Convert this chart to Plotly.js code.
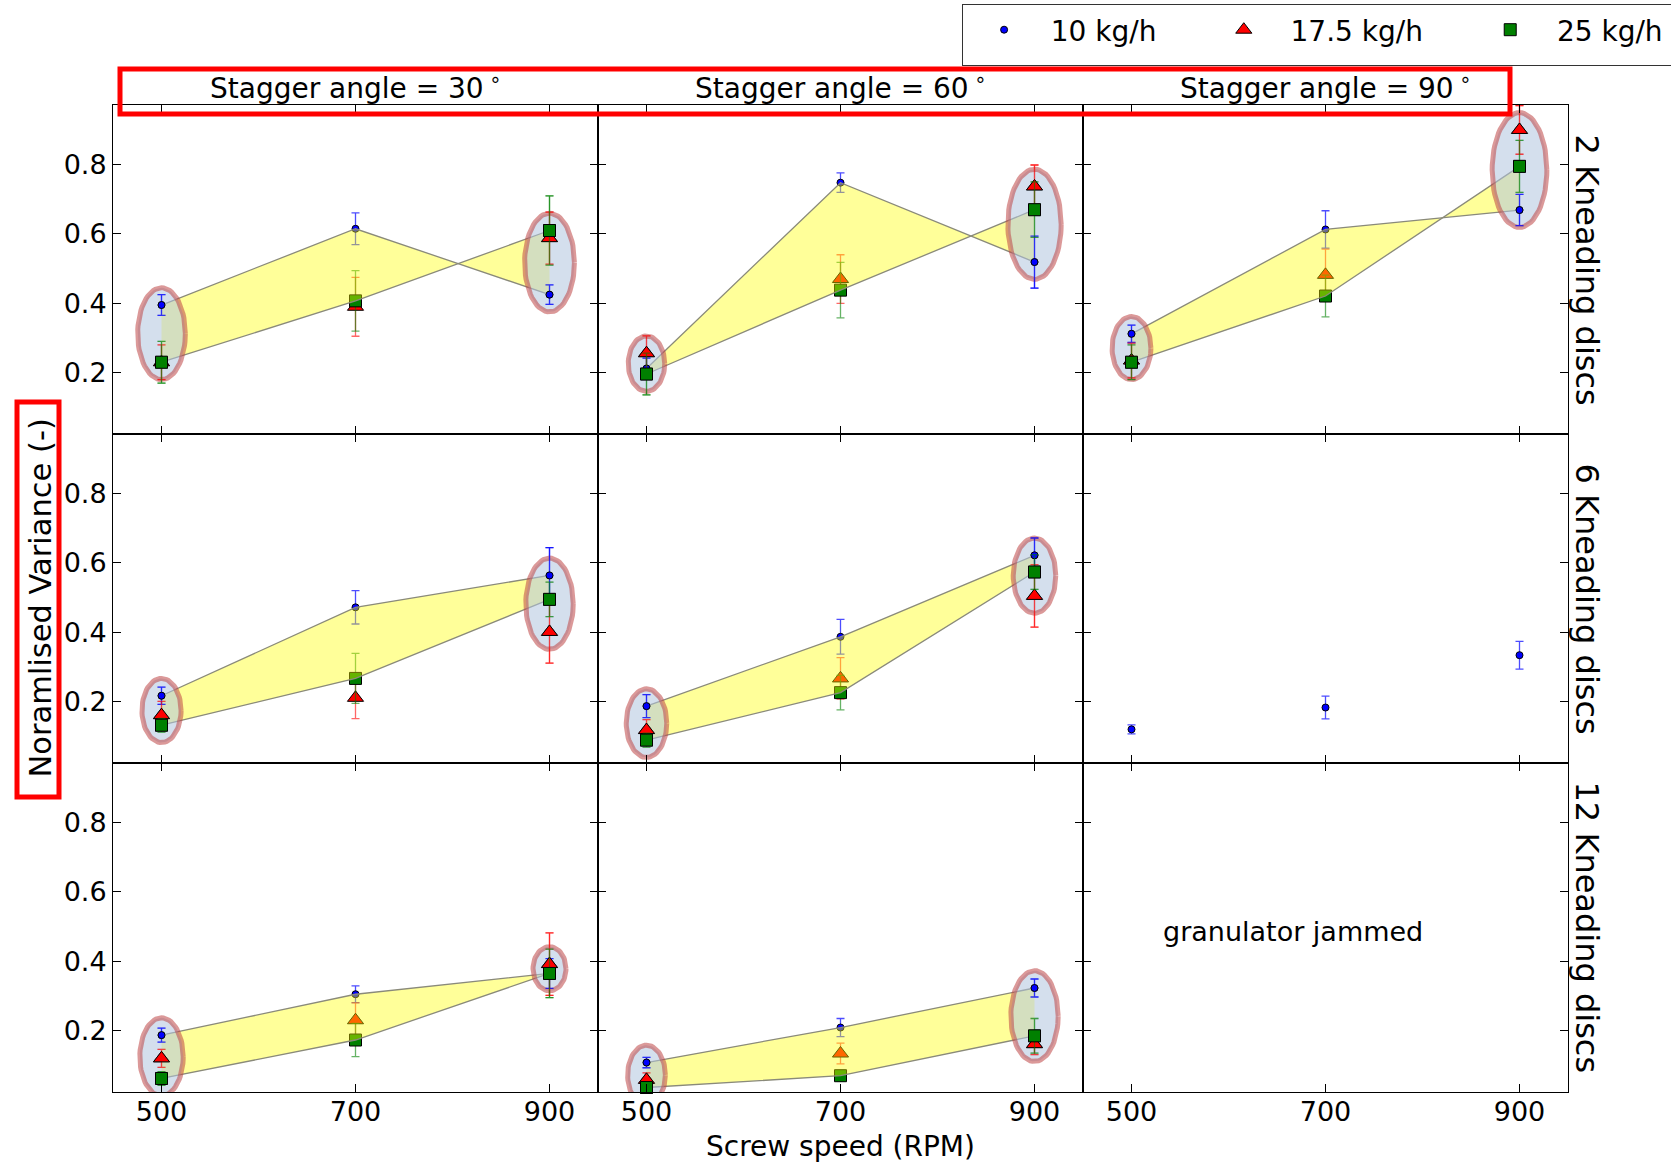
<!DOCTYPE html>
<html>
<head>
<meta charset="utf-8">
<script src="https://cdn.plot.ly/plotly-3.0.1.min.js"></script>
<style>html,body{margin:0;padding:0;background:#fff;}#chart{width:1671px;height:1167px;}</style>
</head>
<body>
<div id="chart"></div>
<script>
// ---------------- DATA ----------------
const speeds = [500, 700, 900];
const angleTitles = ['Stagger angle = 30\u2009<sup>∘</sup>', 'Stagger angle = 60\u2009<sup>∘</sup>', 'Stagger angle = 90\u2009<sup>∘</sup>'];
const discLabels = ['2 Kneading discs', '6 Kneading discs', '12 Kneading discs'];
const seriesNames = ['10 kg/h', '17.5 kg/h', '25 kg/h'];
const jammedNote = 'granulator jammed';

// each array: one entry per stagger angle (30°, 60°, 90°), each a list over the screw speeds
const k2_f10    = [[0.395, 0.615, 0.425], [0.212, 0.748, 0.519], [0.312, 0.613, 0.669]];
const k2_f10e   = [[0.030, 0.046, 0.028], [0.030, 0.028, 0.075], [0.025, 0.054, 0.045]];
const k2_f175   = [[0.230, 0.390, 0.588], [0.256, 0.470, 0.737], [0.235, 0.482, 0.900]];
const k2_f175e  = [[0.050, 0.085, 0.075], [0.050, 0.070, 0.062], [0.050, 0.074, 0.070]];
const k2_f25    = [[0.230, 0.407, 0.610], [0.196, 0.438, 0.670], [0.230, 0.421, 0.795]];
const k2_f25e   = [[0.060, 0.087, 0.100], [0.060, 0.080, 0.080], [0.050, 0.060, 0.075]];

const k6_f10    = [[0.217, 0.472, 0.564], [0.187, 0.387, 0.622], [0.120, 0.183, 0.334]];
const k6_f10e   = [[0.025, 0.048, 0.080], [0.033, 0.050, 0.050], [0.013, 0.033, 0.040]];
const k6_f175   = [[0.161, 0.211, 0.401], [0.118, 0.267, 0.505], null];
const k6_f175e  = [[0.040, 0.060, 0.090], [0.030, 0.060, 0.090], null];
const k6_f25    = [[0.132, 0.267, 0.495], [0.089, 0.226, 0.574], null];
const k6_f25e   = [[0.020, 0.072, 0.050], [0.020, 0.050, 0.050], null];

const k12_f10   = [[0.187, 0.305, 0.365], [0.108, 0.209, 0.323], null];
const k12_f10e  = [[0.020, 0.024, 0.043], [0.015, 0.026, 0.026], null];
const k12_f175  = [[0.120, 0.230, 0.392], [0.058, 0.134, 0.161], null];
const k12_f175e = [[0.026, 0.050, 0.090], [0.020, 0.030, 0.030], null];
const k12_f25   = [[0.062, 0.173, 0.365], [0.036, 0.070, 0.185], null];
const k12_f25e  = [[0.020, 0.048, 0.070], [0.015, 0.015, 0.050], null];

// ---------------- BUILD ----------------
const rows = [
  {v: [k2_f10, k2_f175, k2_f25], e: [k2_f10e, k2_f175e, k2_f25e]},
  {v: [k6_f10, k6_f175, k6_f25], e: [k6_f10e, k6_f175e, k6_f25e]},
  {v: [k12_f10, k12_f175, k12_f25], e: [k12_f10e, k12_f175e, k12_f25e]}
];

const styles = [
  {color: '#0000ff', symbol: 'circle', size: 7, err: 'rgba(0,0,255,0.7)'},
  {color: '#ff0000', symbol: 'triangle-up', size: 14, err: 'rgba(255,0,0,0.6)'},
  {color: '#008000', symbol: 'square', size: 12, err: 'rgba(0,128,0,0.6)'}
];

const FONT = 'DejaVu Sans, Liberation Sans, sans-serif';
const W = 1671, H = 1167;
const M = {l: 113, r: 103, t: 105, b: 75};
const PW = W - M.l - M.r, PH = H - M.t - M.b;
const px2x = p => (p - M.l) / PW;
const px2y = p => (H - M.b - p) / PH;
const NB = '\u00a0';

const traces = [];
const annotations = [];
const shapes = [];
const layout = {
  width: W, height: H,
  margin: M,
  paper_bgcolor: '#ffffff',
  plot_bgcolor: '#ffffff',
  font: {family: FONT, color: '#000000', size: 26},
  showlegend: true,
  legend: {
    orientation: 'h',
    xref: 'container', yref: 'container',
    x: 962 / W, xanchor: 'left',
    y: 1 - 4 / H, yanchor: 'top',
    bgcolor: '#ffffff',
    bordercolor: '#333333',
    borderwidth: 1,
    font: {family: FONT, size: 28, color: '#000'},
    title: {text: NB, side: 'left', font: {family: FONT, size: 38, color: '#000'}},
    itemsizing: 'trace'
  }
};

const markerTrace = (xa, ya, s, xs, ys, es, nm, showL) => {
  const st = styles[s];
  return {
    type: 'scatter', mode: 'markers',
    x: xs, y: ys, xaxis: xa, yaxis: ya,
    name: nm, legendgroup: seriesNames[s], showlegend: showL,
    marker: {color: st.color, symbol: st.symbol, size: st.size, line: {color: '#000', width: 1}},
    error_y: {type: 'data', array: es, visible: true, color: st.err, thickness: 1.3, width: 4},
    cliponaxis: false, hoverinfo: 'skip'
  };
};

for (let r = 0; r < 3; r++) {
  for (let c = 0; c < 3; c++) {
    const idx = r * 3 + c + 1;
    const sfx = idx === 1 ? '' : String(idx);
    const xa = 'x' + sfx, ya = 'y' + sfx;
    layout['xaxis' + sfx] = {
      domain: [c / 3, (c + 1) / 3], anchor: ya,
      range: [450, 950], tickvals: speeds, ticktext: speeds.map(String),
      ticks: 'inside', ticklen: 8, tickwidth: 1, tickcolor: '#000',
      showline: true, mirror: 'allticks', linecolor: '#000', linewidth: 1,
      showgrid: false, zeroline: false,
      showticklabels: r === 2, ticklabelstandoff: -4,
      tickfont: {size: 27, family: FONT, color: '#000'}
    };
    layout['yaxis' + sfx] = {
      domain: [1 - (r + 1) / 3, 1 - r / 3], anchor: xa,
      range: [0.023, 0.972], tickvals: [0.2, 0.4, 0.6, 0.8], ticktext: ['0.2', '0.4', '0.6', '0.8'],
      ticks: 'inside', ticklen: 8, tickwidth: 1, tickcolor: '#000',
      showline: true, mirror: 'allticks', linecolor: '#000', linewidth: 1,
      showgrid: false, zeroline: false,
      showticklabels: c === 0,
      tickfont: {size: 27, family: FONT, color: '#000'}
    };

    const vals = rows[r].v.map(a => a[c]);
    const errs = rows[r].e.map(a => a[c]);

    // markers with error bars
    for (let s = 0; s < 3; s++) {
      if (!vals[s]) continue;
      const nm = idx === 1 ? (s === 2 ? NB.repeat(3) + seriesNames[s] + NB : NB.repeat(3) + seriesNames[s] + NB.repeat(7)) : seriesNames[s];
      traces.push(markerTrace(xa, ya, s, speeds, vals[s], errs[s], nm, idx === 1));
    }

    if (vals[0] && vals[2]) {
      // shaded band between 10 kg/h and 25 kg/h
      traces.push({
        type: 'scatter', mode: 'lines', x: speeds, y: vals[0], xaxis: xa, yaxis: ya,
        line: {color: '#8a8a7a', width: 1.3}, showlegend: false, hoverinfo: 'skip'
      });
      traces.push({
        type: 'scatter', mode: 'lines', x: speeds, y: vals[2], xaxis: xa, yaxis: ya,
        line: {color: '#8a8a7a', width: 1.3}, fill: 'tonexty', fillcolor: 'rgba(255,255,0,0.4)',
        showlegend: false, hoverinfo: 'skip'
      });
      // highlight ellipses around lowest and highest screw speed, sized from the data there
      const ends = [0, 2];
      ends.forEach(i => {
        const col = vals.map(v => v[i]);
        const lo = Math.min(...col) - 0.05, hi = Math.max(...col) + 0.05;
        const cy = (lo + hi) / 2, ry = (hi - lo) / 2;
        const rx = 10 + 55 * (hi - lo);
        const ex = [], ey = [];
        for (let k = 0; k <= 72; k++) {
          const t = 2 * Math.PI * k / 72;
          ex.push(speeds[i] + rx * Math.cos(t));
          ey.push(cy + ry * Math.sin(t));
        }
        traces.push({
          type: 'scatter', mode: 'lines', x: ex, y: ey, xaxis: xa, yaxis: ya,
          fill: 'toself', fillcolor: 'rgba(176,196,222,0.55)',
          line: {color: 'rgba(190,70,70,0.55)', width: 5}, showlegend: false, hoverinfo: 'skip'
        });
      });
      // points inside the ellipses stay visible on top
      for (let s = 0; s < 3; s++) {
        traces.push(markerTrace(xa, ya, s, ends.map(i => speeds[i]), ends.map(i => vals[s][i]), ends.map(i => errs[s][i]), seriesNames[s], false));
      }
    }

    if (!vals[0]) {
      annotations.push({
        xref: xa, yref: ya, x: 530, y: 0.485, xanchor: 'left', yanchor: 'middle',
        text: jammedNote, showarrow: false, font: {size: 27, family: FONT, color: '#000'}
      });
    }
  }
}

// column titles
for (let c = 0; c < 3; c++) {
  annotations.push({
    xref: 'paper', yref: 'paper', x: (c + 0.5) / 3, y: px2y(87), xanchor: 'center', yanchor: 'middle',
    text: angleTitles[c], showarrow: false, font: {size: 28, family: FONT, color: '#000'}
  });
}
// row labels
for (let r = 0; r < 3; r++) {
  annotations.push({
    xref: 'paper', yref: 'paper', x: px2x(1587), y: 1 - (r + 0.5) / 3, xanchor: 'center', yanchor: 'middle',
    text: discLabels[r], textangle: 90, showarrow: false, font: {size: 32, family: FONT, color: '#000'}
  });
}
// axis titles
annotations.push({
  xref: 'paper', yref: 'paper', x: px2x(40), y: 0.5, xanchor: 'center', yanchor: 'middle',
  text: 'Noramlised Variance (-)', textangle: -90, showarrow: false, font: {size: 30.5, family: FONT, color: '#000'}
});
annotations.push({
  xref: 'paper', yref: 'paper', x: 0.5, y: px2y(1146), xanchor: 'center', yanchor: 'middle',
  text: 'Screw speed (RPM)', showarrow: false, font: {size: 28, family: FONT, color: '#000'}
});

// red highlight boxes
shapes.push({type: 'rect', xref: 'paper', yref: 'paper', x0: px2x(120), x1: px2x(1510), y0: px2y(69), y1: px2y(114),
  line: {color: '#ff0000', width: 5}, fillcolor: 'rgba(0,0,0,0)', layer: 'above'});
shapes.push({type: 'rect', xref: 'paper', yref: 'paper', x0: px2x(17), x1: px2x(59), y0: px2y(402), y1: px2y(797),
  line: {color: '#ff0000', width: 5}, fillcolor: 'rgba(0,0,0,0)', layer: 'above'});

layout.shapes = shapes;
layout.annotations = annotations;

Plotly.newPlot('chart', traces, layout, {staticPlot: true, displayModeBar: false});
</script>
</body>
</html>
